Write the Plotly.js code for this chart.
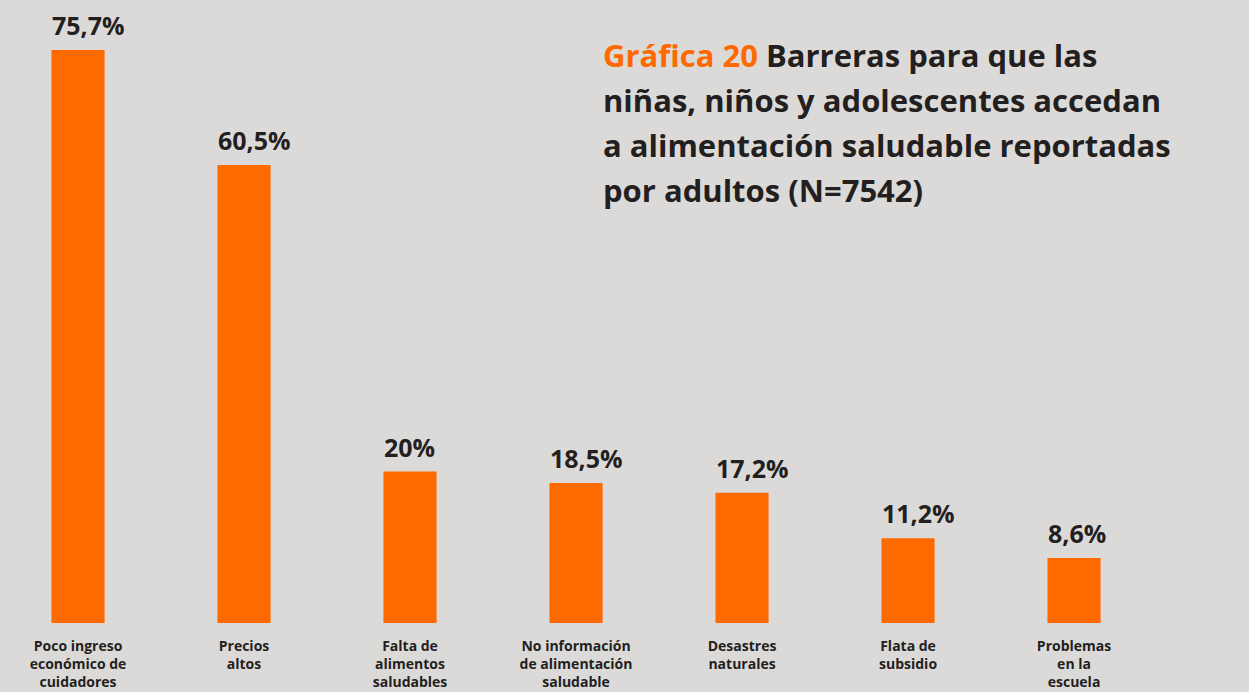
<!DOCTYPE html>
<html>
<head>
<meta charset="utf-8">
<script src="https://cdn.plot.ly/plotly-3.0.1.min.js"></script>
<style>html,body{margin:0;padding:0;background:#dcdad8;}#chart{width:1249px;height:692px;}</style>
</head>
<body>
<div id="chart"></div>
<script>
const categories = [
  "Poco ingreso<br>económico de<br>cuidadores",
  "Precios<br>altos",
  "Falta de<br>alimentos<br>saludables",
  "No información<br>de alimentación<br>saludable",
  "Desastres<br>naturales",
  "Flata de<br>subsidio",
  "Problemas<br>en la<br>escuela"
];
const values = [75.7, 60.5, 20, 18.5, 17.2, 11.2, 8.6];
const valueLabels = ["75,7%", "60,5%", "20%", "18,5%", "17,2%", "11,2%", "8,6%"];
const titleLines = [
  "<span style='color:#ff6a00'>Gráfica 20</span> Barreras para que las",
  "niñas, niños y adolescentes accedan",
  "a alimentación saludable reportadas",
  "por adultos (N=7542)"
];

const xIdx = categories.map((c, i) => i);
const BG = "#dcdad8", ORANGE = "#ff6a00", DARK = "#231f20";

const trace = {
  type: "bar",
  x: xIdx,
  y: values,
  width: 0.32,
  marker: {color: ORANGE},
  hoverinfo: "skip"
};

const annotations = [];
values.forEach((v, i) => {
  annotations.push({
    x: i, y: v, xref: "x", yref: "y",
    text: valueLabels[i],
    showarrow: false,
    xanchor: "left", yanchor: "bottom",
    xshift: -28, yshift: 6,
    font: {family: "Open Sans", size: 25, color: DARK, weight: 700}
  });
});
titleLines.forEach((t, i) => {
  annotations.push({
    x: 601, y: 55 + i * 45, xref: "paper", yref: "paper",
    text: t, showarrow: false,
    xanchor: "left", yanchor: "middle",
    font: {family: "Open Sans", size: 31, color: DARK, weight: 700}
  });
});

const W = 1249, H = 692, ML = 0, MR = 0, MT = 0, MB = 69;
annotations.forEach(a => {
  if (a.xref === "paper") {
    a.x = (a.x - ML) / (W - ML - MR);
    a.y = 1 - (a.y - MT) / (H - MT - MB);
  }
});

const layout = {
  width: W, height: H,
  margin: {l: ML, r: MR, t: MT, b: MB, pad: 0},
  paper_bgcolor: BG, plot_bgcolor: BG,
  showlegend: false,
  xaxis: {
    range: [-0.47, 7.054],
    tickmode: "array",
    tickvals: xIdx,
    ticktext: categories,
    showgrid: false, zeroline: false, showline: false,
    ticks: "",
    ticklabelstandoff: 13,
    tickangle: 0,
    tickfont: {family: "Open Sans", size: 14, color: DARK, weight: 700},
    fixedrange: true
  },
  yaxis: {
    range: [0, 82.3],
    visible: false,
    fixedrange: true
  },
  annotations: annotations
};

Plotly.newPlot("chart", [trace], layout, {displayModeBar: false, staticPlot: true});
</script>
</body>
</html>
